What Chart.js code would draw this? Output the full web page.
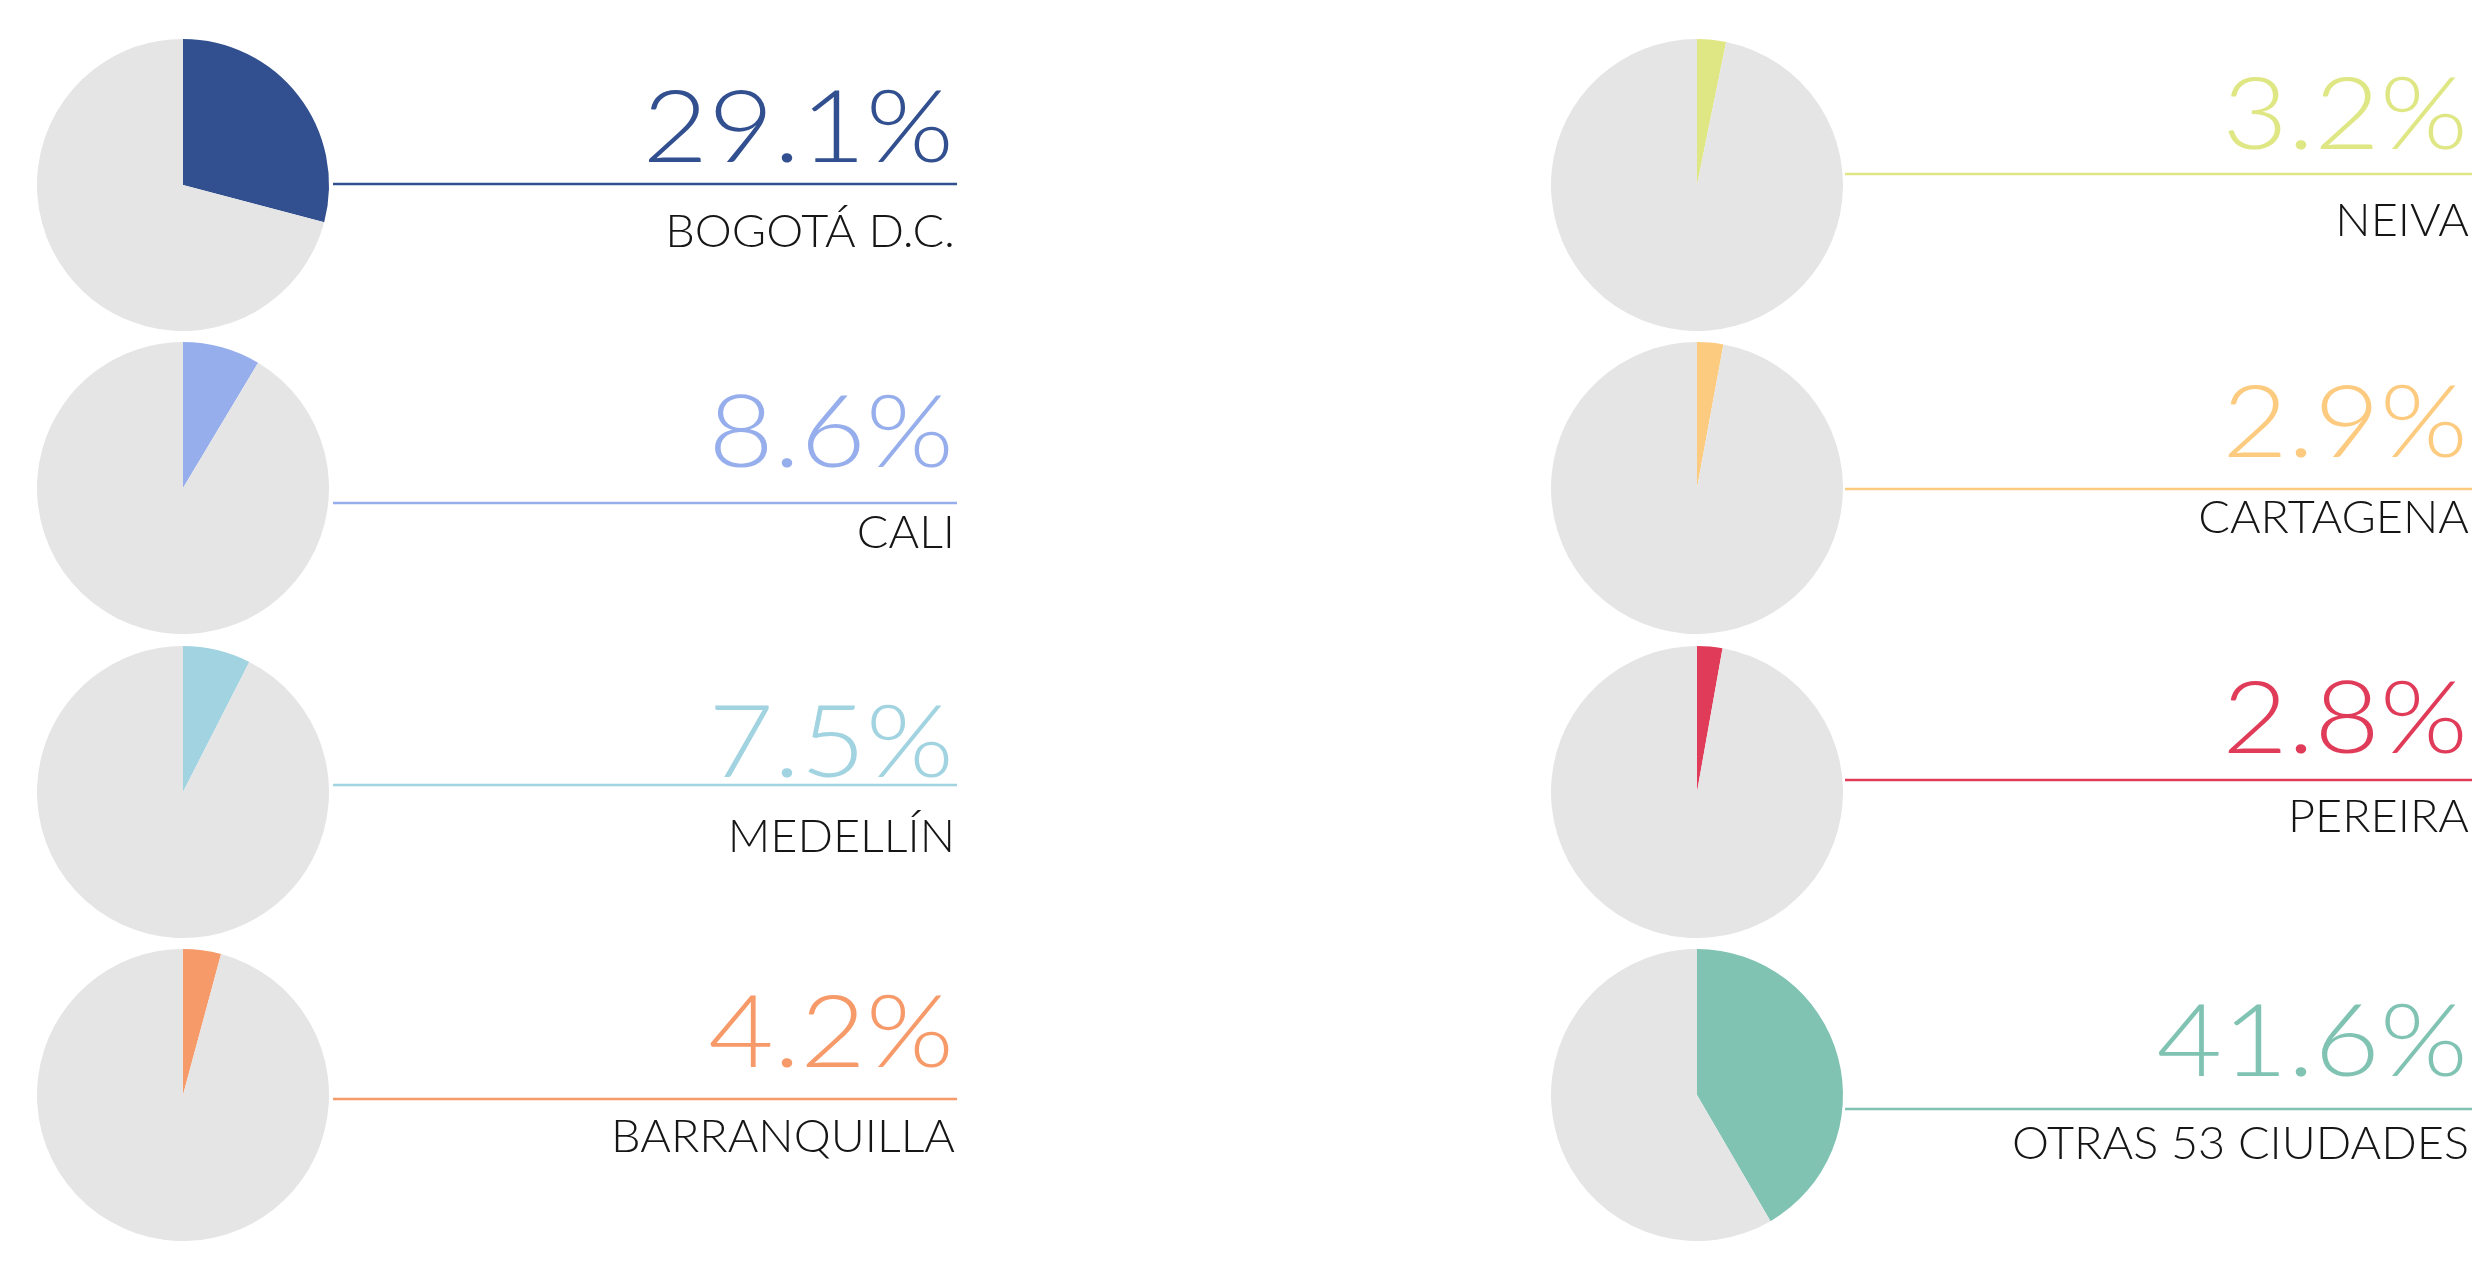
<!DOCTYPE html>
<html>
<head>
<meta charset="utf-8">
<script src="https://cdn.jsdelivr.net/npm/chart.js@4.4.1/dist/chart.umd.min.js"></script>
<style>
  html, body { margin: 0; padding: 0; background: #ffffff; }
  body { width: 2486px; height: 1262px; position: relative; overflow: hidden; }
  canvas { position: absolute; }
</style>
</head>
<body>
<script>
// ---------- data ----------
const cities = ['BOGOTÁ D.C.', 'CALI', 'MEDELLÍN', 'BARRANQUILLA', 'NEIVA', 'CARTAGENA', 'PEREIRA', 'OTRAS 53 CIUDADES'];
const shares = [29.1, 8.6, 7.5, 4.2, 3.2, 2.9, 2.8, 41.6];
const sliceColors = ['#32508f', '#97aeec', '#a1d3e0', '#f79a6a', '#dfe784', '#fdcb7f', '#e03c59', '#80c3b3'];
const restColor = '#e5e5e5';

// ---------- layout (page pixels) ----------
const columns = [
  { canvasLeft: 0,    canvasWidth: 1000, cx: 183,  lineX0: 333,  lineX1: 957,  textRight: 954 },
  { canvasLeft: 1500, canvasWidth: 986,  cx: 1697, lineX0: 1845, lineX1: 2472, textRight: 2468 }
];
const rowCenters = [185, 488, 792, 1095];
const lineYs      = [184, 503, 785, 1099, 174, 489, 780, 1109];
const pctBaseline = [162, 467, 777, 1067, 149, 457, 753, 1076];
const lblBaseline = [247, 548, 852, 1152, 236, 533, 832, 1159];
const RADIUS = 146;
const CANVAS_H = 303;
const PCT_FONT = '300 101px Lato, "Open Sans", sans-serif';
const LBL_FONT = '300 45px Lato, "Open Sans", sans-serif';
const PCT_STRETCH = 1.12;
const LBL_STRETCH = 1.04;

const labelPlugin = {
  id: 'sideLabel',
  afterDraw(chart, args, opts) {
    const ctx = chart.ctx;
    const ox = opts.canvasLeft, oy = opts.canvasTop;
    ctx.save();
    // connector line
    ctx.strokeStyle = opts.color;
    ctx.lineWidth = 2.5;
    ctx.beginPath();
    ctx.moveTo(opts.lineX0 - ox, opts.lineY - oy);
    ctx.lineTo(opts.lineX1 - ox, opts.lineY - oy);
    ctx.stroke();
    // percentage
    ctx.textAlign = 'right';
    ctx.textBaseline = 'alphabetic';
    ctx.fillStyle = opts.color;
    ctx.font = PCT_FONT;
    ctx.save();
    ctx.translate(opts.textRight - ox, opts.pctY - oy);
    ctx.scale(PCT_STRETCH, 1);
    ctx.fillText(opts.pctText, 0, 0);
    ctx.restore();
    // city label
    ctx.fillStyle = '#161616';
    ctx.font = LBL_FONT;
    ctx.save();
    ctx.translate(opts.textRight + 1 - ox, opts.lblY - oy);
    ctx.scale(LBL_STRETCH, 1);
    ctx.fillText(opts.label, 0, 0);
    ctx.restore();
    ctx.restore();
  }
};

cities.forEach((city, i) => {
  const col = columns[Math.floor(i / 4)];
  const row = i % 4;
  const cy = rowCenters[row];
  const top = cy - 151;
  const canvas = document.createElement('canvas');
  canvas.width = col.canvasWidth;
  canvas.height = CANVAS_H;
  canvas.style.left = col.canvasLeft + 'px';
  canvas.style.top = top + 'px';
  canvas.style.width = col.canvasWidth + 'px';
  canvas.style.height = CANVAS_H + 'px';
  document.body.appendChild(canvas);

  const padLeft = col.cx - RADIUS - col.canvasLeft;
  const padRight = col.canvasWidth - padLeft - 2 * RADIUS;
  const padTop = cy - RADIUS - top;
  const padBottom = CANVAS_H - padTop - 2 * RADIUS;

  new Chart(canvas, {
    type: 'pie',
    data: {
      labels: [city, 'Resto'],
      datasets: [{
        data: [shares[i], +(100 - shares[i]).toFixed(1)],
        backgroundColor: [sliceColors[i], restColor],
        borderWidth: 0
      }]
    },
    options: {
      responsive: false,
      animation: false,
      layout: { padding: { left: padLeft, right: padRight, top: padTop, bottom: padBottom } },
      plugins: {
        legend: { display: false },
        tooltip: { enabled: false },
        sideLabel: {
          canvasLeft: col.canvasLeft, canvasTop: top,
          color: sliceColors[i],
          lineX0: col.lineX0, lineX1: col.lineX1, lineY: lineYs[i],
          textRight: col.textRight,
          pctY: pctBaseline[i], lblY: lblBaseline[i],
          pctText: shares[i].toFixed(1) + '%',
          label: city
        }
      }
    },
    plugins: [labelPlugin]
  });
});
</script>
</body>
</html>
